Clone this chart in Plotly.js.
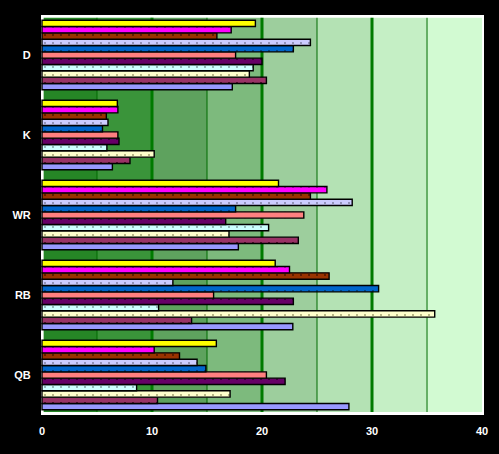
<!DOCTYPE html>
<html>
<head>
<meta charset="utf-8">
<script src="https://cdn.plot.ly/plotly-3.0.1.min.js"></script>
<style>
html,body{margin:0;padding:0;background:#000;}
#chart{width:499px;height:454px;}
</style>
</head>
<body>
<div id="chart"></div>
<script>
// Categories (bottom to top)
const categories = ["QB", "RB", "WR", "K", "D"];

// Series values, in order [QB, RB, WR, K, D]
const series1 = [27.9, 22.8, 17.85, 6.4, 17.3];
const series2 = [10.5, 13.6, 23.3, 8.0, 20.4];
const series3 = [17.1, 35.7, 17.0, 10.2, 18.85];
const series4 = [8.6, 10.6, 20.6, 5.9, 19.2];
const series5 = [22.1, 22.85, 16.7, 7.0, 20.0];
const series6 = [20.4, 15.6, 23.8, 6.9, 17.6];
const series7 = [14.9, 30.6, 17.6, 5.5, 22.85];
const series8 = [14.1, 11.9, 28.2, 6.0, 24.4];
const series9 = [12.5, 26.1, 24.4, 5.85, 15.9];
const series10 = [10.2, 22.5, 25.9, 6.9, 17.2];
const series11 = [15.85, 21.2, 21.5, 6.85, 19.4];

const seriesNames = ["Series1","Series2","Series3","Series4","Series5","Series6","Series7","Series8","Series9","Series10","Series11"];
const seriesColors = ["#9999FF","#993366","#FFFFCC","#CCFFFF","#660066","#FF8080","#0066CC","#CCCCFF","#993300","#FF00FF","#FFFF00"];
const dotColors = ["#555599","#330011","#999966","#779999","#220022","#aa4444","#003366","#777799","#441100","#990099","#999900"];
const allSeries = [series1,series2,series3,series4,series5,series6,series7,series8,series9,series10,series11];

// x tick values
const xTicks = [0, 10, 20, 30, 40];

// background bands (value boundaries) and colours
const bandEdges = [0, 5, 10, 15, 20, 25, 30, 35, 40];
const bandColors = ["#268626","#3a943a","#5ea25e","#7dba7d","#9dce9d","#b4e2b4","#c5efc5","#d2fad2"];
const thinLines = [5, 15, 25, 35];
const thickLines = [10, 20, 30];

const traces = allSeries.map((vals, i) => ({
  type: "bar",
  orientation: "h",
  name: seriesNames[i],
  y: categories,
  x: vals,
  marker: {
    color: seriesColors[i],
    line: { color: "#000000", width: 1.4 },
    pattern: { shape: ".", size: 8, solidity: 0.04, fgcolor: dotColors[i], bgcolor: seriesColors[i] }
  },
  hoverinfo: "x+name"
}));

const shapes = [];
for (let i = 0; i < bandColors.length; i++) {
  shapes.push({
    type: "rect", layer: "below", xref: "x", yref: "paper",
    x0: Math.max(bandEdges[i], 0.15), x1: bandEdges[i+1], y0: 0.0075, y1: 0.993,
    fillcolor: bandColors[i], line: { width: 0 }
  });
}
thinLines.forEach(v => shapes.push({
  type: "line", layer: "below", xref: "x", yref: "paper",
  x0: v, x1: v, y0: 0.0075, y1: 0.993, line: { color: "#006a00", width: 1 }
}));
thickLines.forEach(v => shapes.push({
  type: "line", layer: "below", xref: "x", yref: "paper",
  x0: v, x1: v, y0: 0.0075, y1: 0.993, line: { color: "#007a00", width: 3 }
}));

const layout = {
  width: 499, height: 454,
  paper_bgcolor: "#000000",
  plot_bgcolor: "#ffffff",
  margin: { l: 41, r: 15, t: 15, b: 39, pad: 0 },
  barmode: "group",
  bargap: 0.13,
  bargroupgap: 0,
  showlegend: false,
  font: { family: "Liberation Sans, Arial, sans-serif", size: 11, color: "#ffffff" },
  xaxis: {
    range: [-0.09, 40.18],
    tickvals: xTicks,
    ticktext: xTicks.map(String),
    showgrid: false, zeroline: false, showline: false,
    ticks: "outside", ticklen: 6, tickcolor: "#000000",
    tickfont: { family: "Liberation Sans, Arial, sans-serif", size: 11, color: "#ffffff", weight: "bold" },
    fixedrange: true
  },
  yaxis: {
    type: "category",
    categoryorder: "array",
    categoryarray: categories,
    showgrid: false, zeroline: false, showline: false,
    ticks: "outside", ticklen: 7, tickcolor: "#000000",
    tickfont: { family: "Liberation Sans, Arial, sans-serif", size: 11, color: "#ffffff", weight: "bold" },
    fixedrange: true
  },
  shapes: shapes
};

Plotly.newPlot("chart", traces, layout, { displayModeBar: false, staticPlot: true });
</script>
</body>
</html>
